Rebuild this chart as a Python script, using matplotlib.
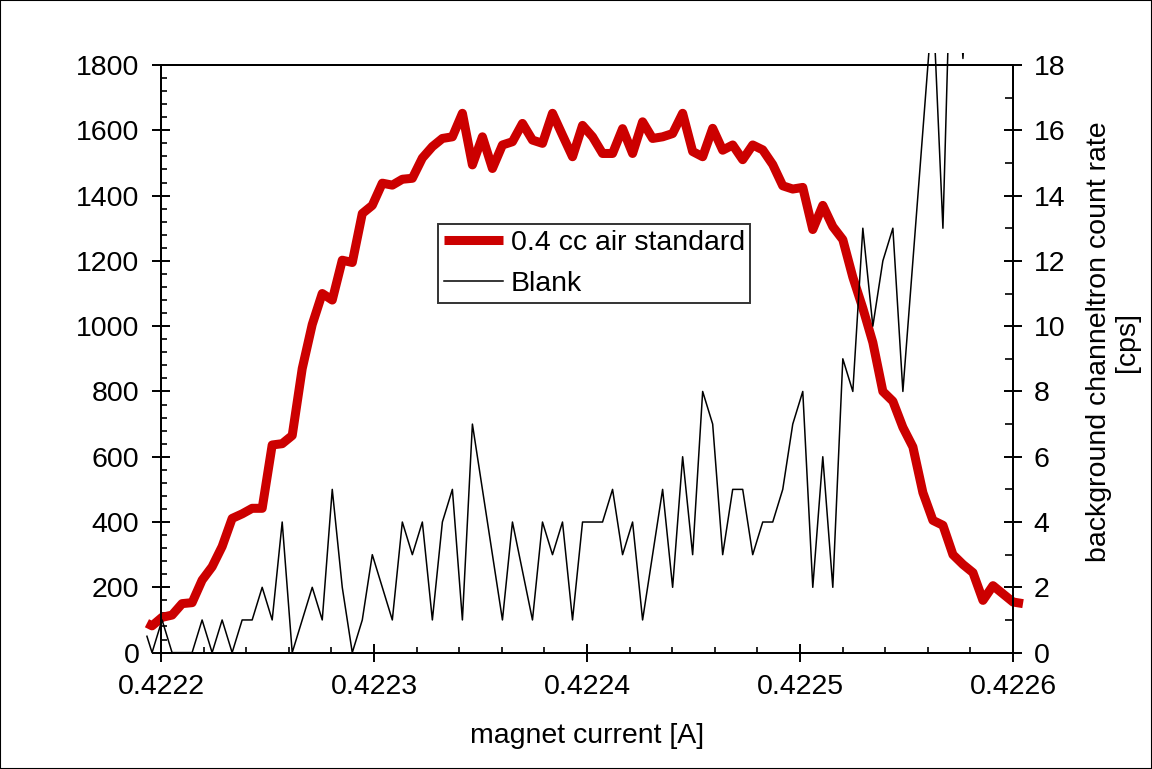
import numpy as np
import matplotlib
matplotlib.use("Agg")
import matplotlib.pyplot as plt
from matplotlib.ticker import MultipleLocator, FixedLocator
from matplotlib.patches import Rectangle

plt.rcParams['font.family'] = ['Liberation Sans', 'DejaVu Sans']

# magnet current scan positions [A]
magnet_current = [
    0.4221934, 0.4221958, 0.4222005, 0.4222052, 0.4222099, 0.4222146, 0.4222193,
    0.4222240, 0.4222287, 0.4222334, 0.4222381, 0.4222428, 0.4222475, 0.4222522,
    0.4222569, 0.4222616, 0.4222663, 0.4222710, 0.4222757, 0.4222804, 0.4222851,
    0.4222898, 0.4222945, 0.4222992, 0.4223039, 0.4223086, 0.4223133, 0.4223180,
    0.4223227, 0.4223274, 0.4223321, 0.4223368, 0.4223415, 0.4223462, 0.4223509,
    0.4223556, 0.4223603, 0.4223650, 0.4223697, 0.4223744, 0.4223791, 0.4223838,
    0.4223885, 0.4223932, 0.4223979, 0.4224026, 0.4224073, 0.4224120, 0.4224167,
    0.4224214, 0.4224261, 0.4224308, 0.4224355, 0.4224402, 0.4224449, 0.4224496,
    0.4224543, 0.4224590, 0.4224637, 0.4224684, 0.4224731, 0.4224778, 0.4224825,
    0.4224872, 0.4224919, 0.4224966, 0.4225013, 0.4225060, 0.4225107, 0.4225154,
    0.4225201, 0.4225248, 0.4225295, 0.4225342, 0.4225389, 0.4225436, 0.4225483,
    0.4225530, 0.4225577, 0.4225624, 0.4225671, 0.4225718, 0.4225765, 0.4225812,
    0.4225859, 0.4225906, 0.4225953, 0.4226000, 0.4226047,
]

# 0.4 cc air standard (left axis)
air_standard = [
    90, 82, 108, 115, 150, 153, 222, 263, 325, 411, 425, 442, 442, 636, 640,
    665, 870, 1005, 1100, 1080, 1202, 1195, 1345, 1370, 1438, 1432, 1450, 1453,
    1515, 1550, 1575, 1580, 1652, 1494, 1580, 1483, 1555, 1565, 1621, 1570, 1560,
    1652, 1585, 1519, 1615, 1580, 1529, 1529, 1605, 1529, 1626, 1575, 1580, 1590,
    1652, 1535, 1519, 1606, 1539, 1555, 1510, 1555, 1540, 1495, 1430, 1420, 1425,
    1296, 1370, 1305, 1265, 1150, 1055, 950, 800, 770, 690, 630, 490, 405, 390,
    300, 270, 245, 160, 205, 180, 155, 150,
]

# Blank, background channeltron count rate [cps] (right axis)
blank_cps = [
    0.5, 0, 1, 0, 0, 0, 1, 0, 1, 0, 1, 1, 2, 1, 4, 0, 1, 2, 1, 5, 2, 0, 1, 3, 2,
    1, 4, 3, 4, 1, 4, 5, 1, 7, 5, 3, 1, 4, 2.5, 1, 4, 3, 4, 1, 4, 4, 4, 5, 3, 4,
    1, 3, 5, 2, 6, 3, 8, 7, 3, 5, 5, 3, 4, 4, 5, 7, 8, 2, 6, 2, 9, 8, 13, 10, 12,
    13, 8, 12, 16, 20, 13, 24, 18.2, 24, 24,
]

x_ticks = [0.4222, 0.4223, 0.4224, 0.4225, 0.4226]
x_tick_labels = ['0.4222', '0.4223', '0.4224', '0.4225', '0.4226']

W, H = 1152, 769
fig = plt.figure(figsize=(W / 100, H / 100), dpi=100)
fig.patch.set_facecolor('white')

left_px, right_px, top_px, bot_px = 161, 1013, 65, 652.6
ax = fig.add_axes([left_px / W, 1 - bot_px / H, (right_px - left_px) / W,
                   (bot_px - top_px) / H])
ax2 = ax.twinx()

FS = 20.5
red_line, = ax.plot(magnet_current, air_standard, color='#CC0000', lw=6.5,
                    solid_joinstyle='round', solid_capstyle='butt',
                    clip_on=False, label='0.4 cc air standard', zorder=2)
black_line, = ax2.plot(magnet_current[:len(blank_cps)], blank_cps, color='black',
                       lw=1.1, label='Blank', zorder=3)
clip_rect = Rectangle((-0.03, -0.05), 1.06, 1.05 + 12 / (bot_px - top_px),
                      transform=ax2.transAxes, facecolor='none', edgecolor='none')
black_line.set_clip_path(clip_rect)

ax.set_xlim(0.4222, 0.4226)
ax.set_ylim(0, 1800)
ax2.set_ylim(0, 18)

ax.xaxis.set_major_locator(FixedLocator(x_ticks))
ax.set_xticklabels(x_tick_labels)
ax.xaxis.set_minor_locator(MultipleLocator(0.00002))
ax.yaxis.set_major_locator(MultipleLocator(200))
ax.yaxis.set_minor_locator(MultipleLocator(40))
ax2.yaxis.set_major_locator(MultipleLocator(2))
ax2.yaxis.set_minor_locator(MultipleLocator(1))

for a in (ax, ax2):
    for s in a.spines.values():
        s.set_linewidth(1.4)

ax.tick_params(axis='x', which='major', direction='inout', length=13, width=1.4,
               labelsize=FS, pad=9.0, top=False)
ax.tick_params(axis='y', which='major', direction='inout', length=13, width=1.4,
               labelsize=FS, pad=9.0, right=False)
ax.tick_params(which='minor', direction='in', length=4, width=1.2, top=False,
               right=False)
ax2.tick_params(axis='y', which='major', direction='inout', length=13, width=1.4,
                labelsize=FS, pad=8.3)
ax2.tick_params(axis='y', which='minor', direction='in', length=6, width=1.2)

ax.set_xlabel('magnet current [A]', fontsize=FS)
ax.xaxis.set_label_coords(0.5, -0.1195)

fig.text(1113 / W, 1 - 342 / H, 'background channeltron count rate\n[cps]',
         rotation=90, ha='center', va='center', fontsize=FS,
         multialignment='center', linespacing=1.1)

leg = ax2.legend([red_line, black_line], ['0.4 cc air standard', 'Blank'],
                 loc='upper left', bbox_to_anchor=(438 / W, 1 - 224 / H),
                 bbox_transform=fig.transFigure, fontsize=FS, frameon=True,
                 fancybox=False, shadow=False, borderpad=0.2, handlelength=2.1,
                 handletextpad=0.25, labelspacing=0.55, borderaxespad=0)
leg.get_frame().set_edgecolor('black')
leg.get_frame().set_linewidth(1.4)

fig.patches.append(Rectangle((0, 0), 1, 1, transform=fig.transFigure,
                             fill=False, edgecolor='black', lw=1.5))

fig.savefig('out.png', dpi=100, facecolor='white')
